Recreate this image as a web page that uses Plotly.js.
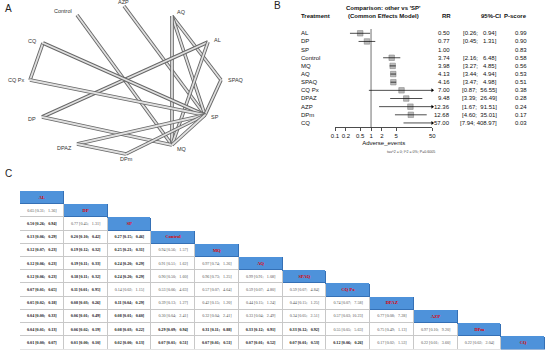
<!DOCTYPE html>
<html><head><meta charset="utf-8">
<script src="https://cdn.plot.ly/plotly-3.0.1.min.js"></script>
<style>html,body{margin:0;padding:0;background:#fff}#chart{width:550px;height:354px}</style>
</head><body><div id="chart"></div>
<script>
// ---------- Panel A: network ----------
const nodeNames = ['Control','AZP','AQ','AL','SPAQ','SP','MQ','DPm','DPAZ','DP','CQ Px','CQ'];
const nodeX = [77,124,172,208,221,205,172,126,77,42,30,43];
const nodeY = [15,6,16,42,80,115,145,154,144,117,80,43];
const edgeFrom = ['Control','AZP','AQ','AQ','AQ','AL','AL','SPAQ','CQ','CQ','CQ Px','DP','DPAZ','DPAZ','DPm','MQ'];
const edgeTo   = ['MQ','SP','SPAQ','SP','MQ','DP','MQ','SP','CQ Px','SP','SP','MQ','SP','DPm','SP','SP'];

// ---------- Panel B: forest ----------
const treatments = ['AL','DP','SP','Control','MQ','AQ','SPAQ','CQ Px','DPAZ','AZP','DPm','CQ'];
const rr     = [0.50,0.77,1.00,3.74,3.98,4.13,4.16,7.00,9.48,12.36,12.68,57.00];
const ciLow  = [0.26,0.45,null,2.16,3.27,3.44,3.47,0.87,3.39,1.67,4.60,7.94];
const ciHigh = [0.94,1.31,null,6.48,4.85,4.94,4.98,56.55,26.49,91.51,35.01,408.97];
const pScore = [0.99,0.90,0.83,0.58,0.56,0.53,0.51,0.38,0.28,0.24,0.17,0.03];
const xTickVals = [0.1,0.2,0.5,1,2,5,50];
const xTickText = ['0.1','0.2','0.5','1','2','5','50'];

// ---------- Panel C: league table ----------
const leagueNames = ['AL','DP','SP','Control','MQ','AQ','SPAQ','CQ Px','DPAZ','AZP','DPm','CQ'];
const leagueValues = [
 [],
 ['0.65 [0.31; 1.36]'],
 ['0.50 [0.26; 0.94]','0.77 [0.45; 1.31]'],
 ['0.13 [0.06; 0.29]','0.20 [0.10; 0.42]','0.27 [0.15; 0.46]'],
 ['0.12 [0.07; 0.23]','0.19 [0.12; 0.32]','0.25 [0.21; 0.31]','0.94 [0.56; 1.57]'],
 ['0.12 [0.06; 0.23]','0.19 [0.11; 0.33]','0.24 [0.20; 0.29]','0.91 [0.51; 1.62]','0.97 [0.74; 1.26]'],
 ['0.12 [0.06; 0.23]','0.18 [0.11; 0.32]','0.24 [0.20; 0.29]','0.90 [0.50; 1.60]','0.96 [0.73; 1.25]','0.99 [0.91; 1.08]'],
 ['0.07 [0.01; 0.65]','0.11 [0.01; 0.95]','0.14 [0.02; 1.15]','0.53 [0.06; 4.63]','0.57 [0.07; 4.64]','0.59 [0.07; 4.80]','0.59 [0.07; 4.84]'],
 ['0.05 [0.02; 0.18]','0.08 [0.03; 0.26]','0.11 [0.04; 0.29]','0.39 [0.13; 1.27]','0.42 [0.15; 1.20]','0.44 [0.15; 1.24]','0.44 [0.15; 1.25]','0.74 [0.07; 7.58]'],
 ['0.04 [0.00; 0.33]','0.06 [0.01; 0.49]','0.08 [0.01; 0.60]','0.30 [0.04; 2.41]','0.32 [0.04; 2.41]','0.33 [0.04; 2.49]','0.34 [0.05; 2.51]','0.57 [0.03; 10.23]','0.77 [0.08; 7.28]'],
 ['0.04 [0.01; 0.13]','0.06 [0.02; 0.19]','0.08 [0.03; 0.22]','0.29 [0.09; 0.94]','0.31 [0.11; 0.88]','0.33 [0.12; 0.91]','0.33 [0.12; 0.92]','0.55 [0.05; 5.63]','0.75 [0.49; 1.13]','0.97 [0.10; 9.20]'],
 ['0.01 [0.00; 0.07]','0.01 [0.00; 0.10]','0.02 [0.00; 0.13]','0.07 [0.01; 0.51]','0.07 [0.01; 0.51]','0.07 [0.01; 0.52]','0.07 [0.01; 0.53]','0.12 [0.06; 0.26]','0.17 [0.02; 1.53]','0.22 [0.01; 3.60]','0.22 [0.02; 2.04]']
];

// ================= build =================
const W = 550, H = 354;
const px = v => v / W;          // paper x from pixel
const py = v => 1 - v / H;      // paper y from pixel
const NB = '\u00a0';
const sans = 'Liberation Sans, Arial, sans-serif';
const serif = 'Liberation Serif, Times New Roman, serif';

const traces = [];
const annotations = [];
const shapes = [];

// --- network edges ---
edgeFrom.forEach((f, k) => {
  const a = nodeNames.indexOf(f), b = nodeNames.indexOf(edgeTo[k]);
  const xs = [nodeX[a], nodeX[b]], ys = [nodeY[a], nodeY[b]];
  traces.push({type:'scatter', mode:'lines', x:xs, y:ys, xaxis:'x', yaxis:'y',
    line:{color:'#666666', width:3.6}, hoverinfo:'skip', showlegend:false});
  traces.push({type:'scatter', mode:'lines', x:xs, y:ys, xaxis:'x', yaxis:'y',
    line:{color:'#e0e0e0', width:1.8}, hoverinfo:'skip', showlegend:false});
});
const cx = nodeX.reduce((s, v) => s + v, 0) / nodeX.length;
const cy = nodeY.reduce((s, v) => s + v, 0) / nodeY.length;
nodeNames.forEach((n, i) => {
  const dx = nodeX[i] - cx, dy = nodeY[i] - cy, d = Math.hypot(dx, dy);
  const ux = dx / d, uy = dy / d;
  annotations.push({xref:'x', yref:'y', x: nodeX[i] + 4.5 * ux, y: nodeY[i] + 4.5 * uy,
    text: n, showarrow:false, xanchor: ux < -0.3 ? 'right' : (ux > 0.3 ? 'left' : 'center'),
    yanchor:'middle', font:{family:sans, size:5.5, color:'#333'}});
});

// --- forest ---
const rowsWithCI = treatments.map((t, i) => i).filter(i => ciLow[i] !== null);
traces.push({type:'scatter', mode:'markers', xaxis:'x2', yaxis:'y2',
  x: rowsWithCI.map(i => rr[i]), y: rowsWithCI,
  marker:{symbol:'square', size:5.5, color:'#b9b9b9', line:{color:'#7a7a7a', width:0.5}},
  hoverinfo:'skip', showlegend:false});
const lx = [], ly = [];
rowsWithCI.forEach(i => { lx.push(ciLow[i], ciHigh[i], null); ly.push(i, i, null); });
traces.push({type:'scatter', mode:'lines', xaxis:'x2', yaxis:'y2', x:lx, y:ly,
  line:{color:'#000', width:0.7}, hoverinfo:'skip', showlegend:false});
const xMax = xTickVals[xTickVals.length - 1];
const over = rowsWithCI.filter(i => ciHigh[i] > xMax);
traces.push({type:'scatter', mode:'markers', xaxis:'x2', yaxis:'y2', cliponaxis:false,
  x: over.map(() => xMax), y: over,
  marker:{symbol:'triangle-right', size:3.5, color:'#000'}, hoverinfo:'skip', showlegend:false});

shapes.push({type:'line', xref:'x2', yref:'y2 domain', x0:1, x1:1, y0:0, y1:1,
  line:{color:'#9a9a9a', width:1.4}, layer:'below'});

const fFont = {family:sans, size:6, color:'#111'};
const addTxt = (text, x, y, anchor, font, yref) => annotations.push({xref:'paper', yref: yref || 'paper',
  x, y, text, showarrow:false, xanchor:anchor, yanchor:'middle', font});
addTxt("<b>Comparison: other vs 'SP'</b>", px(383), py(8.3), 'center', fFont);
addTxt('<b>(Common Effects Model)</b>', px(383), py(16.3), 'center', fFont);
addTxt('<b>Treatment</b>', px(299), py(16.3), 'left', fFont);
addTxt('<b>RR</b>', px(453), py(16.3), 'right', fFont);
addTxt('<b>95%-CI</b>', px(503), py(16.3), 'right', fFont);
addTxt('<b>P-score</b>', px(529), py(16.3), 'right', fFont);
treatments.forEach((t, i) => {
  addTxt(t, px(299), i, 'left', fFont, 'y2');
  addTxt(rr[i].toFixed(2), px(452), i, 'right', fFont, 'y2');
  if (ciLow[i] !== null) {
    const hi = ciHigh[i].toFixed(2);
    const pad = NB.repeat(Math.max(0, 6 - hi.length));
    addTxt('[' + ciLow[i].toFixed(2) + ';' + NB + pad + hi + ']', px(498.5), i, 'right', fFont, 'y2');
  }
  addTxt(pScore[i].toFixed(2), px(528.5), i, 'right', fFont, 'y2');
});
addTxt('tau^2 = 0; I^2 = 0%; P=0.6005', px(411), py(152), 'center', {family:sans, size:3.6, color:'#444'});

// --- league table ---
const nL = leagueNames.length;
const zBorder = [], zFill = [];
const tx = [], ty = [], tt = [], tc = [], ts = [];
for (let i = 0; i < nL; i++) {
  const rb = [], rf = [];
  for (let j = 0; j < nL; j++) {
    if (j < i) { rb.push(0); rf.push(0); }
    else if (j === i) { rb.push(1); rf.push(1); }
    else { rb.push(null); rf.push(null); }
  }
  zBorder.push(rb); zFill.push(rf);
  tx.push(i); ty.push(i); tt.push('<b>' + leagueNames[i] + '</b>'); tc.push('#e00000'); ts.push(4.6);
  leagueValues[i].forEach((v, j) => {
    const m = v.match(/\[([\d.]+);\s*([\d.]+)\]/);
    const lo = parseFloat(m[1]), hi = parseFloat(m[2]);
    const sig = hi < 1 || lo > 1;
    const parts = v.split(' ');
    const txt = parts[0] + NB + parts[1] + NB + (hi < 10 ? NB + NB : '') + parts[2];
    tx.push(j); ty.push(i); tt.push(sig ? '<b>' + txt + '</b>' : txt);
    tc.push(sig ? '#111' : '#555'); ts.push(4.1);
  });
}
const idx = leagueNames.map((n, i) => i);
traces.push({type:'heatmap', xaxis:'x3', yaxis:'y3', x:idx, y:idx, z:zBorder, zmin:0, zmax:1,
  colorscale:[[0,'#c8c8c8'],[1,'#3570b5']], showscale:false, hoverinfo:'skip'});
traces.push({type:'heatmap', xaxis:'x3', yaxis:'y3', x:idx, y:idx, z:zFill, zmin:0, zmax:1,
  colorscale:[[0,'#ffffff'],[1,'#4e92da']], showscale:false, hoverinfo:'skip', xgap:1, ygap:1});
traces.push({type:'scatter', mode:'text', xaxis:'x3', yaxis:'y3', x:tx, y:ty, text:tt,
  textfont:{family:serif, size:ts, color:tc}, cliponaxis:false, hoverinfo:'skip', showlegend:false});

// panel letters
[['A',8,8],['B',277,6],['C',8,173]].forEach(([t, x, y]) =>
  addTxt(t, px(x), py(y), 'center', {family:sans, size:10, color:'#222'}));

const rowTop = 33.3, pitch = 8.15, axisPx = 127.5, refTop = 29;

const layout = {
  width: W, height: H, margin:{l:0, r:0, t:0, b:0}, paper_bgcolor:'#fff', plot_bgcolor:'rgba(0,0,0,0)',
  showlegend:false,
  xaxis:{domain:[0,1], range:[0,W], visible:false, fixedrange:true},
  yaxis:{domain:[0,1], range:[H,0], visible:false, fixedrange:true},
  xaxis2:{domain:[px(335), px(432.3)], anchor:'y2', type:'log', range:[-1, Math.log10(xMax)],
    showline:true, linecolor:'#000', linewidth:0.7, ticks:'outside', ticklen:3, tickwidth:0.7, tickcolor:'#000',
    tickvals:xTickVals, ticktext:xTickText, tickangle:0, tickfont:{family:sans, size:6, color:'#111'},
    showgrid:false, zeroline:false, title:{text:'Adverse_events', font:{family:sans, size:6, color:'#111'}, standoff:2}},
  yaxis2:{domain:[py(axisPx), py(refTop)], anchor:'x2', range:[(axisPx - rowTop) / pitch, (refTop - rowTop) / pitch],
    visible:false},
  xaxis3:{domain:[px(20), px(545)], anchor:'y3', range:[-0.5, nL - 0.5], visible:false},
  yaxis3:{domain:[py(349.5), py(191)], anchor:'x3', range:[nL - 0.5, -0.5], visible:false},
  annotations, shapes
};
Plotly.newPlot('chart', traces, layout, {displayModeBar:false, staticPlot:true});
</script></body></html>
